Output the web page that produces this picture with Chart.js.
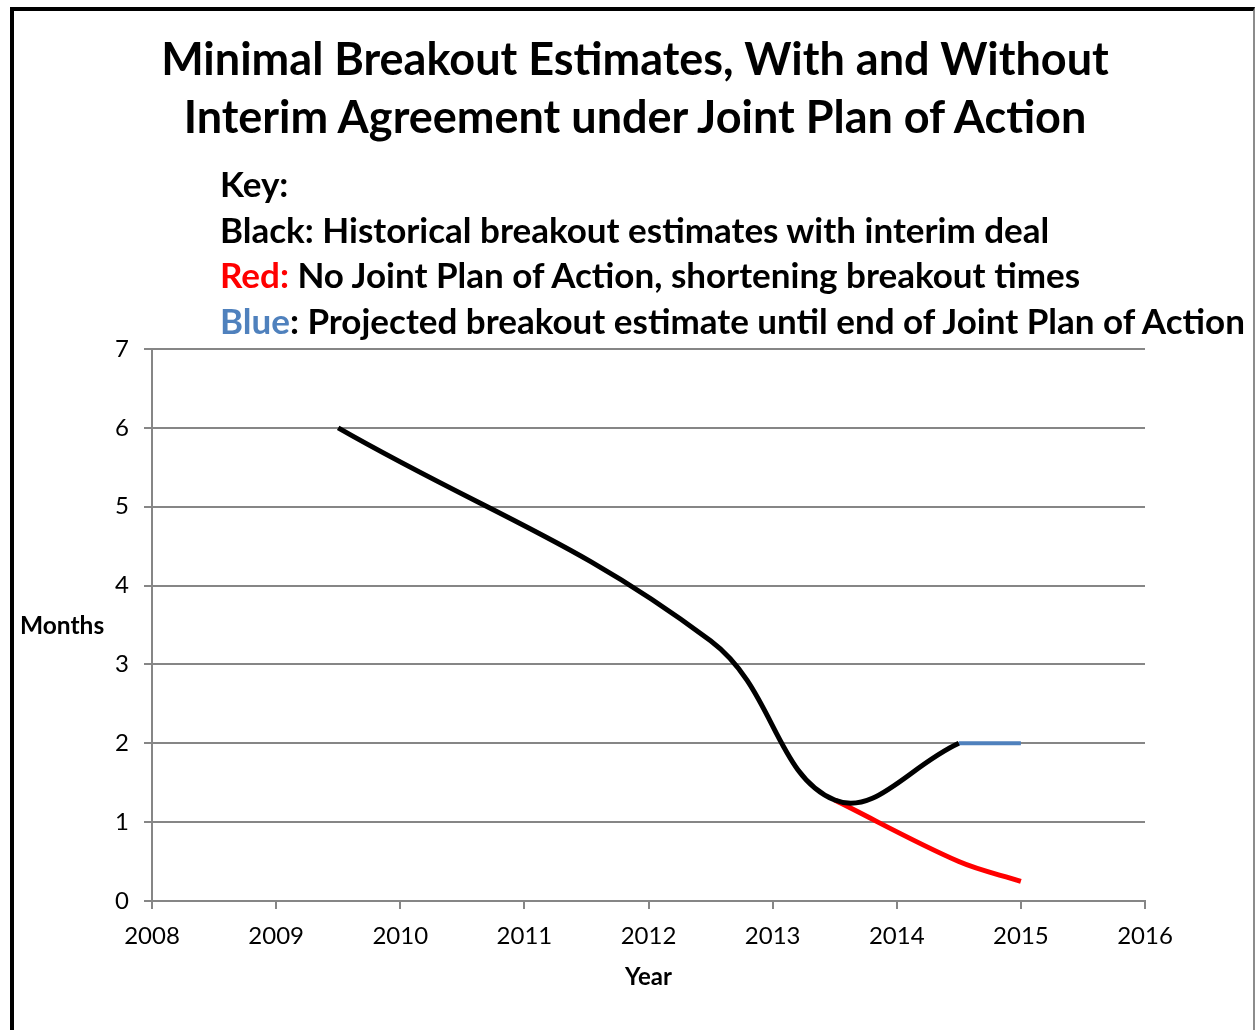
<!DOCTYPE html>
<html>
<head>
<meta charset="utf-8">
<script src="https://cdn.jsdelivr.net/npm/chart.js@4.4.1/dist/chart.umd.min.js"></script>
<style>
  body { margin: 0; background: #fff; font-family: Lato, sans-serif; }
  #wrap { position: relative; width: 1257px; height: 1030px; overflow: hidden; }
  #frame { position: absolute; left: 10px; top: 7px; width: 1239px; height: 1100px;
    border-top: 4px solid #000; border-left: 4px solid #000; border-right: 2px solid #8c8c8c; }
  canvas { position: absolute; left: 0; top: 0; }
  .title { position: absolute; left: 0; width: 1270px; text-align: center;
    font-weight: bold; font-size: 45px; line-height: 58px; top: 29px; }
  .key { position: absolute; left: 220px; top: 161px; font-weight: bold;
    font-size: 35px; line-height: 45.5px; white-space: nowrap; }
  .months { position: absolute; left: 20px; top: 610px; font-weight: bold; font-size: 24.5px; }
</style>
</head>
<body>
<div id="wrap">
  <div id="frame"></div>
  <canvas id="chart" width="1257" height="1030"></canvas>
  <div class="title">Minimal Breakout Estimates, With and Without<br>Interim Agreement under Joint Plan of Action</div>
  <div class="key">
    Key:<br>
    Black: Historical breakout estimates with interim deal<br>
    <span style="color:#ff0000">Red:</span> No Joint Plan of Action, shortening breakout times<br>
    <span style="color:#4f81bd">Blue</span>: Projected breakout estimate until end of Joint Plan of Action
  </div>
  <div class="months">Months</div>
</div>
<script>
// x axis range / ticks
const yearTicks = [2008, 2009, 2010, 2011, 2012, 2013, 2014, 2015, 2016];
const monthTicks = [0, 1, 2, 3, 4, 5, 6, 7];

// black: historical breakout estimates with interim deal
const blackYears = [2009.5, 2012.5, 2013.5, 2014.5];
const blackMonths = [6, 3.3, 1.28, 2];

// red: no joint plan of action
const redYears = [2013.5, 2014.5, 2015];
const redMonths = [1.28, 0.5, 0.25];

// blue: projected until end of JPOA
const blueYears = [2014.5, 2015];
const blueMonths = [2, 2];

const toPoints = (xs, ys) => xs.map((x, i) => ({ x: x, y: ys[i] }));

const gridGray = "#868686";

new Chart(document.getElementById("chart"), {
  type: "scatter",
  data: {
    datasets: [
      {
        label: "Blue",
        data: toPoints(blueYears, blueMonths),
        borderColor: "#4f81bd",
        borderWidth: 4,
        showLine: true,
        pointRadius: 0,
        order: 3,
      },
      {
        label: "Red",
        data: toPoints(redYears, redMonths),
        borderColor: "#ff0000",
        borderWidth: 5,
        showLine: true,
        pointRadius: 0,
        tension: 0.35,
        order: 2,
      },
      {
        label: "Black",
        data: toPoints(blackYears, blackMonths),
        borderColor: "#000000",
        borderWidth: 5,
        showLine: true,
        pointRadius: 0,
        tension: 0.4,
        order: 1,
      },
    ],
  },
  options: {
    responsive: false,
    animation: false,
    layout: { padding: { top: 349, right: 112, left: 0, bottom: 0 } },
    plugins: { legend: { display: false }, tooltip: { enabled: false } },
    scales: {
      x: {
        type: "linear",
        min: yearTicks[0],
        max: yearTicks[yearTicks.length - 1],
        afterBuildTicks: (scale) => {
          scale.ticks = yearTicks.map((v) => ({ value: v }));
        },
        afterFit: (scale) => { scale.height = 129; },
        grid: { drawOnChartArea: false, drawTicks: true, tickLength: 8, color: gridGray, lineWidth: 2 },
        border: { display: true, color: gridGray, width: 2 },
        ticks: { color: "#000", font: { family: "Lato", size: 24 }, padding: 13, maxRotation: 0,
          callback: (v) => String(v) },
        title: { display: true, text: "Year", color: "#000", font: { family: "Lato", size: 24, weight: "bold" },
          padding: { top: 0, bottom: 38 } },
      },
      y: {
        min: monthTicks[0],
        max: monthTicks[monthTicks.length - 1],
        afterBuildTicks: (scale) => {
          scale.ticks = monthTicks.map((v) => ({ value: v }));
        },
        afterFit: (scale) => { scale.width = 152; },
        grid: { color: gridGray, lineWidth: 2, tickLength: 8 },
        border: { display: true, color: gridGray, width: 2 },
        ticks: { color: "#000", font: { family: "Lato", size: 24 }, padding: 15 },
      },
    },
  },
});
</script>
</body>
</html>
